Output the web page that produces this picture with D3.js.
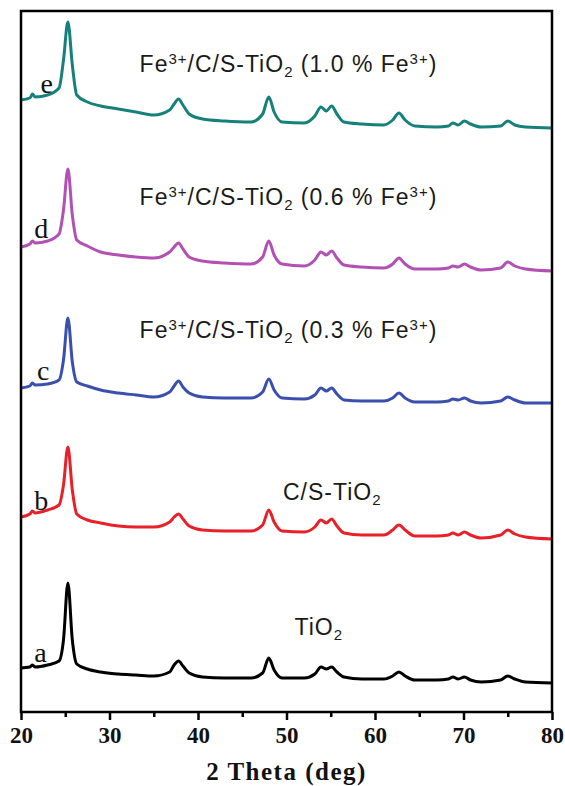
<!DOCTYPE html>
<html>
<head>
<meta charset="utf-8">
<script src="https://cdn.jsdelivr.net/npm/d3@7"></script>
<style>
  body { margin: 0; background: #fff; }
  svg { display: block; }
</style>
</head>
<body>
<svg class="svg1" width="565" height="786"></svg>
<script>
// 2 theta sample points (deg)
var theta = [20, 21.0, 21.3, 21.6, 23, 24.3, 24.8, 25.3, 25.8, 26.3, 27.5, 29, 31, 33, 35,
             36.8, 37.3, 37.8, 38.3, 39, 40.5, 43, 46, 47.3, 48, 48.6, 49.5, 52, 53.2, 53.9,
             54.5, 55.1, 55.7, 56.5, 58.5, 61, 62.0, 62.7, 63.4, 64.5, 67, 68.3, 68.8, 69.4,
             70.1, 70.8, 72, 74.2, 75, 75.8, 77, 80];

// intensities (a.u., stacked offsets included)
var seriesA = [44, 45, 47, 45, 47, 51, 72, 129, 72, 48, 43, 40, 38, 37, 36, 40, 47, 51, 46, 39, 35, 34, 34, 39, 54, 42,
               34, 34, 38, 45, 43, 45, 40, 35, 33, 33, 36, 40, 36, 32, 32, 33, 35, 33, 35, 32, 30, 32, 36, 33, 30, 29];
var seriesB = [195, 198, 201, 199, 202, 207, 227, 265, 222, 198, 192, 189, 186, 185, 185, 190, 195, 198, 193, 186, 182, 181,
               181, 187, 202, 190, 181, 180, 185, 192, 189, 193, 186, 179, 177, 177, 182, 187, 182, 176, 176, 177, 179, 177,
               180, 177, 174, 177, 182, 178, 175, 173];
var seriesC = [324, 326, 329, 327, 328, 332, 352, 394, 350, 330, 326, 322, 319, 317, 315, 320, 326, 331, 325, 319, 315, 314,
               314, 320, 333, 322, 314, 313, 317, 324, 321, 324, 318, 312, 311, 311, 314, 319, 314, 310, 310, 311, 313, 312,
               314, 311, 309, 311, 315, 312, 309, 309];
var seriesD = [465, 468, 471, 469, 471, 478, 502, 543, 497, 472, 466, 460, 457, 455, 454, 460, 465, 469, 463, 455, 451, 449,
               448, 455, 471, 457, 448, 446, 452, 460, 457, 461, 454, 447, 445, 444, 448, 454, 448, 443, 443, 444, 446, 445,
               448, 445, 442, 444, 450, 446, 443, 441];
var seriesE = [612, 614, 618, 615, 617, 624, 652, 690, 647, 617, 610, 606, 603, 600, 597, 602, 608, 613, 607, 598, 593, 591,
               590, 598, 615, 600, 590, 589, 596, 605, 601, 606, 598, 590, 588, 587, 592, 599, 592, 586, 585, 586, 589, 587,
               591, 588, 585, 586, 591, 587, 585, 584];

var seriesLetters = ["a", "b", "c", "d", "e"];
var seriesColors = ["#000000", "#e8202a", "#3b4fae", "#b350b3", "#16807a"];
var xTicks = [20, 30, 40, 50, 60, 70, 80];
var xMinorTicks = [25, 35, 45, 55, 65, 75];

var allSeries = [seriesA, seriesB, seriesC, seriesD, seriesE];

var LEFT = 21, RIGHT = 552, TOP = 11, BOTTOM = 712;

var svg1 = d3.select(".svg1");

var scaleX = d3.scaleLinear().domain([20, 80]).range([LEFT, RIGHT]);
var scaleY = d3.scaleLinear().domain([0, 701]).range([BOTTOM, TOP]);

var line = d3.line()
    .x(function(d) { return scaleX(d[0]); })
    .y(function(d) { return scaleY(d[1]); })
    .curve(d3.curveMonotoneX);

// curves
allSeries.forEach(function(s, i) {
    var pts = theta.map(function(t, j) { return [t, s[j]]; });
    svg1.append("path")
        .attr("d", line(pts))
        .attr("fill", "none")
        .attr("stroke", seriesColors[i])
        .attr("stroke-width", 3)
        .attr("stroke-linejoin", "round");
});

// series letters
var letterPos = [[21.5, 50], [21.5, 202], [21.8, 332], [21.5, 474], [22.2, 619]];
svg1.selectAll(".letter")
    .data(seriesLetters)
    .enter()
    .append("text")
    .attr("class", "letter")
    .attr("x", function(d, i) { return scaleX(letterPos[i][0]); })
    .attr("y", function(d, i) { return scaleY(letterPos[i][1]); })
    .style("font-family", "'Liberation Serif', 'Times New Roman', serif")
    .style("font-size", "28px")
    .style("fill", "#111")
    .text(function(d) { return d; });

// sample labels
var sans = "'Liberation Sans', Arial, sans-serif";
function feLabel(x, y, pct) {
    var t = svg1.append("text")
        .attr("x", x).attr("y", y)
        .style("font-family", sans)
        .style("font-size", "23px")
        .style("letter-spacing", "1px")
        .style("fill", "#1a1a1a");
    t.append("tspan").text("Fe");
    t.append("tspan").attr("dy", -8).style("font-size", "15px").text("3+");
    t.append("tspan").attr("dy", 8).text("/C/S-TiO");
    t.append("tspan").attr("dy", 5).style("font-size", "15px").text("2");
    t.append("tspan").attr("dy", -5).text(" (" + pct + " % Fe");
    t.append("tspan").attr("dy", -8).style("font-size", "15px").text("3+");
    t.append("tspan").attr("dy", 8).text(")");
}
feLabel(scaleX(33.4), 72, "1.0");
feLabel(scaleX(33.4), 205, "0.6");
feLabel(scaleX(33.4), 338, "0.3");

var cs = svg1.append("text")
    .attr("x", scaleX(49.6)).attr("y", 500)
    .style("font-family", sans).style("font-size", "23px").style("letter-spacing", "1px").style("fill", "#1a1a1a");
cs.append("tspan").text("C/S-TiO");
cs.append("tspan").attr("dy", 5).style("font-size", "15px").text("2");

var ti = svg1.append("text")
    .attr("x", scaleX(50.9)).attr("y", 635)
    .style("font-family", sans).style("font-size", "23px").style("letter-spacing", "1px").style("fill", "#1a1a1a");
ti.append("tspan").text("TiO");
ti.append("tspan").attr("dy", 5).style("font-size", "15px").text("2");

// frame
svg1.append("rect")
    .attr("x", LEFT).attr("y", TOP)
    .attr("width", RIGHT - LEFT).attr("height", BOTTOM - TOP)
    .attr("fill", "none")
    .attr("stroke", "#000")
    .attr("stroke-width", 2.5);

// x axis
var xAxis = d3.axisBottom(scaleX).tickValues(xTicks).tickSize(8).tickPadding(7);
var gx = svg1.append("g")
    .attr("transform", "translate(0," + BOTTOM + ")")
    .call(xAxis);
gx.select(".domain").remove();
gx.selectAll(".tick line").attr("stroke-width", 2.5);
gx.selectAll("text")
    .style("font-family", "'Liberation Serif', 'Times New Roman', serif")
    .style("font-weight", "bold")
    .style("font-size", "23px")
    .style("fill", "#111");

var gm = svg1.append("g")
    .attr("transform", "translate(0," + BOTTOM + ")")
    .call(d3.axisBottom(scaleX).tickValues(xMinorTicks).tickSize(5).tickFormat(""));
gm.select(".domain").remove();
gm.selectAll(".tick line").attr("stroke-width", 2.5);

svg1.append("text")
    .attr("x", (LEFT + RIGHT) / 2)
    .attr("y", 780)
    .attr("text-anchor", "middle")
    .style("font-family", "'Liberation Serif', 'Times New Roman', serif")
    .style("font-weight", "bold")
    .style("font-size", "25px")
    .style("letter-spacing", "1.5px")
    .style("fill", "#111")
    .text("2 Theta (deg)");
</script>
</body>
</html>
